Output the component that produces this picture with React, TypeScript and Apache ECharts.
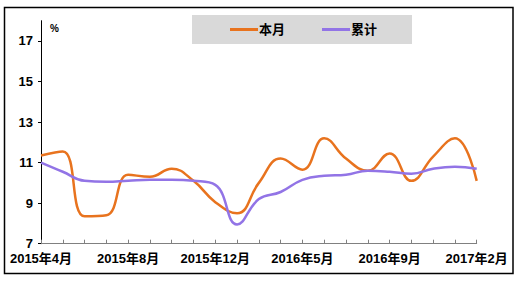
import React, { useEffect, useRef } from "react";
import * as echarts from "echarts";

const categories = [
  "2015年4月", "2015年5月", "2015年6月", "2015年7月", "2015年8月", "2015年9月",
  "2015年10月", "2015年11月", "2015年12月", "2016年2月", "2016年3月", "2016年4月",
  "2016年5月", "2016年6月", "2016年7月", "2016年8月", "2016年9月", "2016年10月",
  "2016年11月", "2016年12月", "2017年2月",
];
const monthly = [11.35, 11.55, 8.35, 8.4, 10.4, 10.3, 10.7, 10.1, 9.05, 8.5, 10.0, 11.2, 10.65, 12.2, 11.2, 10.6, 11.45, 10.1, 11.3, 12.2, 10.1];
const cumulative = [11.0, 10.55, 10.1, 10.05, 10.1, 10.15, 10.15, 10.1, 9.9, 7.95, 9.2, 9.55, 10.15, 10.35, 10.4, 10.6, 10.55, 10.45, 10.7, 10.8, 10.7];
const yTicks = [7, 9, 11, 13, 15, 17];
const seriesNames = ["本月", "累计"];

const FONT = 'Arial, "Liberation Sans", "Noto Sans CJK SC", sans-serif';

export default function App() {
  const ref = useRef<HTMLDivElement>(null);
  useEffect(() => {
    if (!ref.current) return;
    const chart = echarts.init(ref.current, null, { renderer: "svg" });
    chart.setOption({
      animation: false,
      backgroundColor: "#ffffff",
      grid: { left: 41, right: 47.3, top: 20.7, bottom: 39.3, containLabel: false },
      legend: {
        left: 192,
        top: 15,
        backgroundColor: "#D9D9D9",
        padding: [8, 35, 8, 38],
        itemGap: 37,
        itemWidth: 28,
        itemHeight: 3,
        icon: "rect",
        data: seriesNames,
        textStyle: { fontFamily: FONT, fontSize: 13, fontWeight: "bold", color: "#000", padding: [0, 0, 0, -4] },
      },
      xAxis: {
        type: "category",
        data: categories,
        boundaryGap: false,
        axisLine: { lineStyle: { color: "#808080", width: 1 } },
        axisTick: { show: true, inside: true, length: 4, interval: 0, lineStyle: { color: "#808080" } },
        axisLabel: {
          interval: 3,
          margin: 8,
          fontFamily: FONT,
          fontSize: 13,
          fontWeight: "bold",
          color: "#000",
        },
        splitLine: { show: false },
      },
      yAxis: {
        type: "value",
        min: 7,
        max: 18,
        interval: 2,
        axisLine: { show: true, lineStyle: { color: "#000", width: 1 } },
        axisTick: { show: true, length: 3, customValues: yTicks, lineStyle: { color: "#000" } },
        axisLabel: {
          customValues: yTicks,
          margin: 8,
          fontFamily: FONT,
          fontSize: 13,
          fontWeight: "bold",
          color: "#000",
        },
        splitLine: { show: false },
      },
      graphic: [
        {
          type: "rect",
          shape: { x: 4.5, y: 7.5, width: 508.5, height: 266 },
          style: { fill: "none", stroke: "#000", lineWidth: 1.5 },
          silent: true,
          z: 100,
        },
        {
          type: "text",
          left: 50,
          top: 23,
          style: { text: "%", fontFamily: FONT, fontSize: 10, fontWeight: "bold", fill: "#000" },
        },
      ],
      series: [
        {
          name: seriesNames[0],
          type: "line",
          data: monthly,
          smooth: 0.45,
          symbol: "none",
          color: "#E8731E",
          lineStyle: { width: 2.5, color: "#E8731E" },
        },
        {
          name: seriesNames[1],
          type: "line",
          data: cumulative,
          smooth: 0.45,
          symbol: "none",
          color: "#9274E6",
          lineStyle: { width: 2.5, color: "#9274E6" },
        },
      ],
    });
    return () => chart.dispose();
  }, []);
  return (
    <div
      ref={ref}
      style={{ position: "fixed", left: 0, top: 0, width: 524, height: 283 }}
    />
  );
}
